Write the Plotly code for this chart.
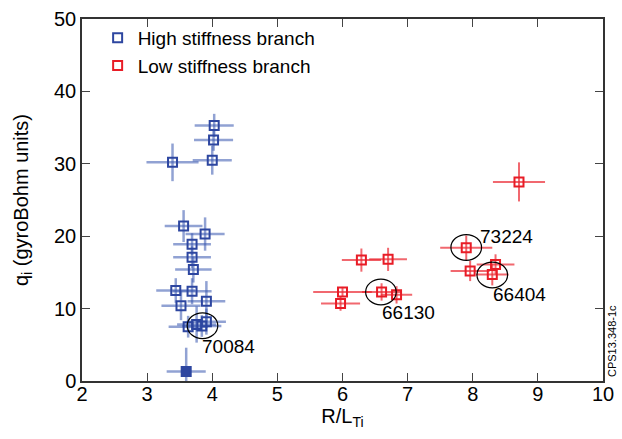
import plotly.graph_objects as go

# High stiffness branch
hi_x = [4.03, 4.02, 4.00, 3.39, 3.56, 3.89, 3.69, 3.69, 3.71, 3.44, 3.69, 3.91, 3.52, 3.63, 3.76, 3.84, 3.91, 3.60]
hi_y = [35.3, 33.3, 30.5, 30.2, 21.4, 20.3, 18.9, 17.1, 15.4, 12.5, 12.4, 11.0, 10.4, 7.5, 7.8, 7.6, 8.2, 1.3]
hi_xerr = [0.30, 0.30, 0.30, 0.40, 0.29, 0.30, 0.29, 0.29, 0.28, 0.30, 0.30, 0.29, 0.30, 0.30, 0.30, 0.30, 0.30, 0.30]
hi_yerr = [1.6, 1.5, 2.0, 2.6, 2.2, 2.3, 1.5, 1.5, 1.8, 1.7, 1.8, 2.8, 2.0, 1.5, 2.5, 1.5, 1.8, 3.3]

# Low stiffness branch
lo_x = [6.29, 6.70, 6.00, 6.60, 6.83, 5.97, 8.71, 7.90, 8.35, 7.96, 8.30]
lo_y = [16.7, 16.8, 12.3, 12.3, 11.9, 10.7, 27.5, 18.4, 16.1, 15.2, 14.7]
lo_xerr = [0.30, 0.29, 0.45, 0.30, 0.24, 0.30, 0.40, 0.40, 0.29, 0.30, 0.25]
lo_yerr = [1.6, 1.6, 0.7, 1.2, 1.2, 1.0, 2.7, 1.7, 1.4, 1.4, 1.5]

# Labelled shots (circled)
shot_labels = ["70084", "66130", "73224", "66404"]
shot_cx = [3.85, 6.59, 7.90, 8.30]
shot_cy = [7.64, 12.3, 18.45, 14.65]
label_x = [3.84, 6.61, 8.11, 8.31]
label_y = [4.76, 9.45, 20.0, 11.9]

x_ticks = [2, 3, 4, 5, 6, 7, 8, 9, 10]
y_ticks = [0, 10, 20, 30, 40, 50]

FONT = "Liberation Sans, Arial, sans-serif"
BLUE = "rgb(45,70,160)"
RED = "rgb(232,28,38)"

hi_symbols = ["square-open"] * (len(hi_x) - 1) + ["square"]

fig = go.Figure()
fig.add_trace(go.Scatter(
    x=hi_x, y=hi_y, mode="markers", name="High stiffness branch",
    marker=dict(symbol=hi_symbols, size=9, color=BLUE, line=dict(color=BLUE, width=2)),
    error_x=dict(type="data", array=hi_xerr, color="rgba(55,85,175,0.55)", thickness=2.5, width=0),
    error_y=dict(type="data", array=hi_yerr, color="rgba(55,85,175,0.55)", thickness=2.5, width=0),
))
fig.add_trace(go.Scatter(
    x=lo_x, y=lo_y, mode="markers", name="Low stiffness branch",
    marker=dict(symbol="square-open", size=9, color=RED, line=dict(color=RED, width=2)),
    error_x=dict(type="data", array=lo_xerr, color="rgba(235,40,50,0.7)", thickness=2, width=0),
    error_y=dict(type="data", array=lo_yerr, color="rgba(235,40,50,0.7)", thickness=2, width=0),
))

rx, ry = 0.235, 1.78
for cx, cy in zip(shot_cx, shot_cy):
    fig.add_shape(type="circle", xref="x", yref="y",
                  x0=cx - rx, x1=cx + rx, y0=cy - ry, y1=cy + ry,
                  line=dict(color="black", width=1.2))

for t, lx, ly in zip(shot_labels, label_x, label_y):
    fig.add_annotation(x=lx, y=ly, text=t, showarrow=False, xanchor="left", yanchor="middle",
                       xshift=-2, font=dict(family=FONT, size=19, color="black"))

fig.add_annotation(xref="paper", yref="paper", x=1.0, y=0.0, text="CPS13.348-1c",
                   showarrow=False, textangle=-90, xanchor="left", yanchor="bottom",
                   xshift=1, yshift=2, font=dict(family=FONT, size=11, color="black"))

axis_common = dict(showgrid=False, zeroline=False, showline=True, linecolor="#333333", linewidth=1.5,
                   mirror="ticks", ticks="inside", ticklen=8, tickwidth=1.3, tickcolor="#444444",
                   ticklabeloverflow="allow",
                   tickfont=dict(family=FONT, size=20, color="black"))

fig.update_layout(
    width=622, height=439,
    margin=dict(l=82, r=12, t=8, b=58),
    paper_bgcolor="white", plot_bgcolor="white",
    font=dict(family=FONT, color="black"),
    showlegend=True,
    legend=dict(x=0.03, y=1.0, xanchor="left", yanchor="top", bgcolor="rgba(0,0,0,0)",
                font=dict(family=FONT, size=19, color="black"), itemwidth=30, tracegroupgap=0),
    xaxis=dict(range=[2, 10], tickvals=x_ticks, ticktext=[str(v) for v in x_ticks],
               ticklabelstandoff=-6,
               title=dict(text="R/L<sub>Ti</sub>", font=dict(family=FONT, size=20), standoff=0),
               **axis_common),
    yaxis=dict(range=[0, 50], tickvals=y_ticks, ticktext=[str(v) for v in y_ticks],
               title=dict(text="q<sub>i</sub> (gyroBohm units)", font=dict(family=FONT, size=20), standoff=20),
               **axis_common),
)

fig.write_html("out.html")
